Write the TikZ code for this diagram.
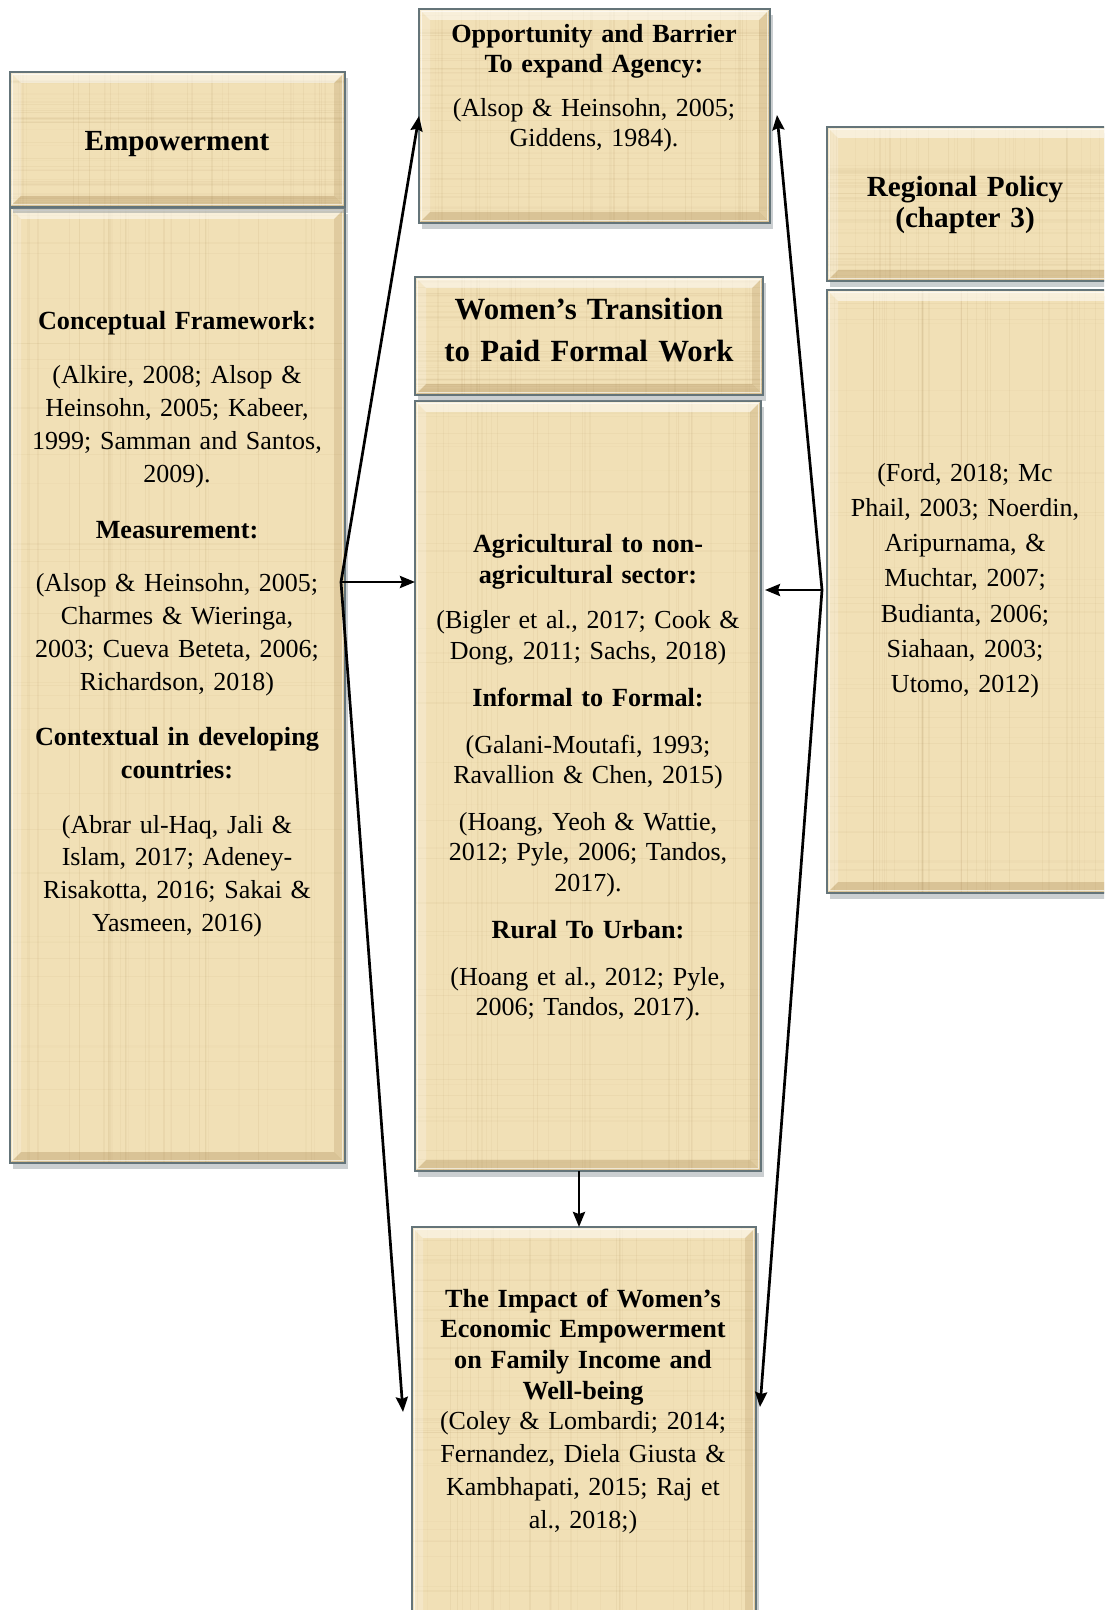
\documentclass[tikz,border=0pt]{standalone}
\usepackage{fontspec}
\setmainfont{Liberation Serif}
\usetikzlibrary{arrows.meta,calc,shadows}

\definecolor{papfill}{HTML}{F1E0B6}
\definecolor{papline}{HTML}{9C7A45}
\definecolor{boxline}{HTML}{647479}
\definecolor{shadowc}{HTML}{7D878E}

\newcommand\bev{5.5pt}

\tikzset{
  % papyrus panel with a bevelled rim and a faint woven texture
  pap/.style={draw=boxline, line width=1pt, fill=papfill, inner sep=0pt, outer sep=0pt,
    drop shadow={shadow xshift=1.5pt, shadow yshift=-3pt, opacity=.4, fill=shadowc},
    path picture={
      \coordinate (pSW) at (path picture bounding box.south west);
      \coordinate (pNE) at (path picture bounding box.north east);
      \coordinate (pNW) at (pSW |- pNE);
      \coordinate (pSE) at (pSW -| pNE);
      \foreach \k in {1,...,34}{
        \pgfmathsetmacro\r{rnd}\pgfmathsetmacro\o{0.03+0.06*rnd}
        \draw[papline, opacity=\o, line width=0.6pt]
          ($(pSW)!\r!(pSE)$) -- ($(pNW)!\r!(pNE)$);
      }
      \foreach \k in {1,...,40}{
        \pgfmathsetmacro\r{rnd}\pgfmathsetmacro\o{0.02+0.05*rnd}
        \draw[papline, opacity=\o, line width=0.6pt]
          ($(pSW)!\r!(pNW)$) -- ($(pSE)!\r!(pNE)$);
      }
      \fill[white, opacity=.5] (pNW) -- (pNE) -- ($(pNE)+(-\bev,-\bev)$) -- ($(pNW)+(\bev,-\bev)$) -- cycle;
      \fill[white, opacity=.22] (pNW) -- (pSW) -- ($(pSW)+(\bev,\bev)$) -- ($(pNW)+(\bev,-\bev)$) -- cycle;
      \fill[papline, opacity=.28] (pSW) -- (pSE) -- ($(pSE)+(-\bev,\bev)$) -- ($(pSW)+(\bev,\bev)$) -- cycle;
      \fill[papline, opacity=.2] (pSE) -- (pNE) -- ($(pNE)+(-\bev,-\bev)$) -- ($(pSE)+(-\bev,\bev)$) -- cycle;
      \draw[white, opacity=.6, line width=0.8pt] ($(pSW)+(1.3pt,1.3pt)$) rectangle ($(pNE)+(-1.3pt,-1.3pt)$);
    }},
  txt/.style={align=center, text width=230pt, inner sep=0pt, anchor=base,
    font=\fontsize{13pt}{#1}\selectfont},
  btxt/.style={align=center, text width=230pt, inner sep=0pt, anchor=base,
    font=\bfseries\fontsize{13.1pt}{#1}\selectfont},
  htxt/.style={align=center, text width=230pt, inner sep=0pt, anchor=base,
    font=\bfseries\fontsize{14.6pt}{#1}\selectfont},
  link/.style={line width=1.35pt, -{Stealth[length=7.5pt,width=6pt,inset=1pt]}},
}

% panel from its top-left and bottom-right corners (pixel units)
\newcommand\panel[5]{%
  \node[pap, minimum width={(#4-#2)*0.5pt}, minimum height={(#5-#3)*0.5pt}]
    (#1) at ({(#2+#4)/2},{(#3+#5)/2}) {};}

\begin{document}
\begin{tikzpicture}[x=0.5pt, y=-0.5pt]
\pgfmathsetseed{4242}
\useasboundingbox (0,0) rectangle (1104,1610);
\clip (0,0) rectangle (1104,1610);
\fill[white] (0,0) rectangle (1104,1610);

% panels: bodies first, then their headers
\panel{empBody}{10}{208}{345}{1163}
\panel{empHead}{10}{72}{345}{207}
\panel{opp}{419}{9}{770}{223}
\panel{wBody}{415}{401}{761}{1171}
\panel{wHead}{415}{277}{763}{395}
\panel{regBody}{827}{290}{1120}{893}
\panel{regHead}{827}{127}{1120}{281}
\panel{imp}{412}{1227}{756}{1640}

% Empowerment column
\node[htxt=17pt] (empT) at (177,151) {Empowerment};
\node[btxt=16.6pt] (cfT) at (177,329) {Conceptual Framework:};
\node[txt=16.6pt] (cfR) at (177,383) {(Alkire, 2008; Alsop \&\\Heinsohn, 2005; Kabeer,\\1999; Samman and Santos,\\2009).};
\node[btxt=16.6pt] (msT) at (177,538) {Measurement:};
\node[txt=16.6pt] (msR) at (177,591) {(Alsop \& Heinsohn, 2005;\\Charmes \& Wieringa,\\2003; Cueva Beteta, 2006;\\Richardson, 2018)};
\node[btxt=16.5pt] (ctT) at (177,745) {Contextual in developing\\countries:};
\node[txt=16.4pt] (ctR) at (177,833) {(Abrar ul-Haq, Jali \&\\Islam, 2017; Adeney-\\Risakotta, 2016; Sakai \&\\Yasmeen, 2016)};

% Opportunity and barrier
\node[btxt=14.6pt] (oppT) at (594,43) {Opportunity and Barrier\\To expand Agency:};
\node[txt=15pt] (oppR) at (594,117) {(Alsop \& Heinsohn, 2005;\\Giddens, 1984).};

% Women's transition column
\node[align=center, text width=230pt, inner sep=0pt, anchor=base,
  font=\bfseries\fontsize{15.4pt}{21pt}\selectfont] (wT) at (589,320)
  {Women’s Transition\\to Paid Formal Work};
\node[btxt=15.5pt] (agT) at (588,552) {Agricultural to non-\\agricultural sector:};
\node[txt=15.5pt] (agR) at (588,628) {(Bigler et al., 2017; Cook \&\\Dong, 2011; Sachs, 2018)};
\node[btxt=15pt] (inT) at (588,706) {Informal to Formal:};
\node[txt=15pt] (inR) at (588,753) {(Galani-Moutafi, 1993;\\Ravallion \& Chen, 2015)};
\node[txt=15.3pt] (hoR) at (588,830) {(Hoang, Yeoh \& Wattie,\\2012; Pyle, 2006; Tandos,\\2017).};
\node[btxt=15pt] (ruT) at (588,938) {Rural To Urban:};
\node[txt=15pt] (ruR) at (588,985) {(Hoang et al., 2012; Pyle,\\2006; Tandos, 2017).};

% Regional policy column
\node[htxt=15.5pt] (regT) at (965,197) {Regional Policy\\(chapter 3)};
\node[txt=17.65pt] (regR) at (965,481) {(Ford, 2018; Mc\\Phail, 2003; Noerdin,\\Aripurnama, \&\\Muchtar, 2007;\\Budianta, 2006;\\Siahaan, 2003;\\Utomo, 2012)};

% Impact panel
\node[btxt=15.35pt] (impT) at (583,1307) {The Impact of Women’s\\Economic Empowerment\\on Family Income and\\Well-being};
\node[txt=16.65pt] (impR) at (583,1429) {(Coley \& Lombardi; 2014;\\Fernandez, Diela Giusta \&\\Kambhapati, 2015; Raj et\\al., 2018;)};

% connectors
\coordinate (hubL) at (341,582);
\coordinate (hubR) at (822,590);
\coordinate (impLin) at (403,1412);
\coordinate (impRin) at (760,1407);
\coordinate (oppRin) at (777,115);

\draw[link] (hubL) -- (opp.west);
\draw[link] (hubL) -- (hubL -| wBody.west);
\draw[link] (hubL) -- (impLin);
\draw[link] (hubR) -- (oppRin);
\draw[link] (hubR) -- ($(hubR -| wBody.east)+(4,0)$);
\draw[link] (hubR) -- (impRin);
\draw[link] ($(wBody.south)+(-9,0)$) -- ($(imp.north)+(-5,0)$);
\end{tikzpicture}
\end{document}
